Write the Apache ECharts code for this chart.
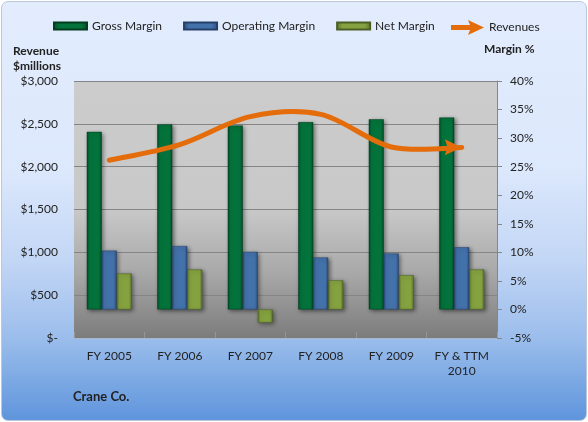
<!DOCTYPE html>
<html>
<head>
<meta charset="utf-8">
<script src="https://cdn.jsdelivr.net/npm/echarts@6/dist/echarts.min.js"></script>
<style>
  html, body { margin: 0; padding: 0; background: #ffffff; }
  #wrap { position: relative; width: 588px; height: 422px; overflow: hidden; }
  #bg { position: absolute; left: 1px; top: 1px; right: 1px; bottom: 1px;
        border: 1px solid #b9c8dc; border-radius: 7px;
        background: linear-gradient(to bottom, #e2ecfd 0%, #dce8fc 40%, #c2d6f5 62%, #9cbeec 80%, #5f95dc 100%); }
  #chart { position: absolute; left: 0; top: 0; width: 588px; height: 422px; }
</style>
</head>
<body>
<div id="wrap"><div id="bg"></div><div id="chart"></div></div>
<script>
// ---- data ----
const categories = ['FY 2005', 'FY 2006', 'FY 2007', 'FY 2008', 'FY 2009', 'FY & TTM\n2010'];
const grossMargin = [31.1, 32.4, 32.2, 32.8, 33.3, 33.6];
const operatingMargin = [10.3, 11.1, 10.1, 9.1, 9.8, 10.9];
const netMargin = [6.3, 7.0, -2.3, 5.1, 6.0, 7.0];
const revenues = [2075, 2258, 2584, 2611, 2230, 2224];
const leftTickLabels = ['$-', '$500', '$1,000', '$1,500', '$2,000', '$2,500', '$3,000'];
const rightTickLabels = ['-5%', '0%', '5%', '10%', '15%', '20%', '25%', '30%', '35%', '40%'];

const FONT = 'Lato';
const TXT = '#222222';
const ORANGE = '#e46c0a';

function bevel(dark, base) {
  return {
    type: 'linear', x: 0, y: 0, x2: 1, y2: 0,
    colorStops: [
      { offset: 0, color: dark },
      { offset: 0.18, color: base },
      { offset: 0.82, color: base },
      { offset: 1, color: dark }
    ]
  };
}

const legendArrow = 'path://M0,5 L19,5 L17,0 L33,7.5 L17,15 L19,10 L0,10 Z';

// Smooth revenue curve (Excel-like cardinal spline) drawn through the cartesian coords
function renderRevenue(params, api) {
  if (params.dataIndex !== 0) return null;
  const n = revenues.length;
  const p = revenues.map((v, i) => api.coord([i, v]));
  const P = (i) => p[Math.max(0, Math.min(n - 1, i))];
  let d = 'M' + p[0][0] + ',' + p[0][1];
  let lastCp = null;
  for (let i = 0; i < n - 1; i++) {
    const a = P(i - 1), b = P(i), c = P(i + 1), e = P(i + 2);
    const c1 = [b[0] + (c[0] - a[0]) / 6, b[1] + (c[1] - a[1]) / 6];
    const c2 = [c[0] - (e[0] - b[0]) / 6, c[1] - (e[1] - b[1]) / 6];
    d += ' C' + c1[0] + ',' + c1[1] + ' ' + c2[0] + ',' + c2[1] + ' ' + c[0] + ',' + c[1];
    lastCp = c2;
  }
  const tip = p[n - 1];
  let ux = tip[0] - lastCp[0], uy = tip[1] - lastCp[1];
  const len = Math.sqrt(ux * ux + uy * uy) || 1;
  ux /= len; uy /= len;
  const nx = -uy, ny = ux;
  const L = 17, W = 8, notch = 14;
  const head = [
    [tip[0], tip[1]],
    [tip[0] - L * ux + W * nx, tip[1] - L * uy + W * ny],
    [tip[0] - notch * ux, tip[1] - notch * uy],
    [tip[0] - L * ux - W * nx, tip[1] - L * uy - W * ny]
  ];
  const lineEnd = [tip[0] - 12 * ux, tip[1] - 12 * uy];
  return {
    type: 'group',
    children: [
      { type: 'path', shape: { pathData: d },
        style: { fill: 'none', stroke: ORANGE, lineWidth: 5, lineCap: 'round', lineJoin: 'round' } },
      { type: 'polygon', shape: { points: head }, style: { fill: ORANGE } }
    ]
  };
}

const barCommon = {
  type: 'bar', yAxisIndex: 1, barWidth: 15, barGap: '0%',
  emphasis: { disabled: true }
};

const chart = echarts.init(document.getElementById('chart'), null, { renderer: 'canvas' });
chart.setOption({
  backgroundColor: 'transparent',
  animation: false,
  textStyle: { fontFamily: FONT },
  grid: {
    left: 74, right: 91, top: 81, bottom: 84, show: true, borderWidth: 0,
    backgroundColor: {
      type: 'linear', x: 0, y: 0, x2: 0, y2: 1,
      colorStops: [
        { offset: 0, color: '#cccccc' },
        { offset: 0.5, color: '#c8c8c8' },
        { offset: 0.75, color: '#a8a8a8' },
        { offset: 1, color: '#7c7c7c' }
      ]
    }
  },
  legend: [
    {
      data: ['Gross Margin', 'Operating Margin', 'Net Margin'],
      left: 53, top: 20, padding: 0, itemWidth: 33, itemHeight: 7, itemGap: 21,
      icon: 'rect',
      textStyle: { fontFamily: FONT, fontSize: 12, color: TXT },
      selectedMode: false
    },
    {
      data: [{ name: 'Revenues', icon: legendArrow, itemStyle: { color: ORANGE, borderWidth: 0 } }],
      left: 451, top: 20, padding: 0, itemWidth: 33, itemHeight: 15,
      textStyle: { fontFamily: FONT, fontSize: 12, color: TXT },
      selectedMode: false
    }
  ],
  xAxis: {
    type: 'category', data: categories,
    axisLine: { show: true, lineStyle: { color: '#a9b7cb', width: 1 } },
    axisTick: { show: true, inside: true, length: 6, lineStyle: { color: 'rgba(255,255,255,0.18)' } },
    axisLabel: { interval: 0, margin: 11, fontFamily: FONT, fontSize: 12, color: TXT, lineHeight: 15 },
    splitLine: { show: false }
  },
  yAxis: [
    {
      type: 'value', min: 0, max: 3000, interval: 500, position: 'left',
      axisLine: { show: false }, axisTick: { show: false },
      axisLabel: { margin: 16, fontFamily: FONT, fontSize: 12, color: TXT,
        formatter: (v) => leftTickLabels[Math.round(v / 500)] },
      splitLine: { show: true, lineStyle: { color: '#858585', width: 1 } }
    },
    {
      type: 'value', min: -5, max: 40, interval: 5, position: 'right',
      axisLine: { show: true, lineStyle: { color: '#868686', width: 1 } },
      axisTick: { show: true, inside: false, length: 5, lineStyle: { color: '#868686' } },
      axisLabel: { margin: 13, fontFamily: FONT, fontSize: 12, color: TXT,
        formatter: (v) => rightTickLabels[Math.round((v + 5) / 5)] },
      splitLine: { show: false }
    }
  ],
  series: [
    Object.assign({}, barCommon, {
      name: 'Gross Margin', data: grossMargin,
      itemStyle: { color: bevel('#024b27', '#04733b'), borderColor: '#023d20', borderWidth: 0.5,
        shadowBlur: 4, shadowColor: 'rgba(0,0,0,0.45)', shadowOffsetX: 1.5, shadowOffsetY: 1.5 }
    }),
    Object.assign({}, barCommon, {
      name: 'Operating Margin', data: operatingMargin,
      itemStyle: { color: bevel('#2b4d7c', '#4371a9'), borderColor: '#24406a', borderWidth: 0.5,
        shadowBlur: 4, shadowColor: 'rgba(0,0,0,0.45)', shadowOffsetX: 1.5, shadowOffsetY: 1.5 }
    }),
    Object.assign({}, barCommon, {
      name: 'Net Margin', data: netMargin,
      itemStyle: { color: bevel('#5a722d', '#85a240'), borderColor: '#4b5f25', borderWidth: 0.5,
        shadowBlur: 4, shadowColor: 'rgba(0,0,0,0.45)', shadowOffsetX: 1.5, shadowOffsetY: 1.5 }
    }),
    {
      name: 'Revenues', type: 'custom', coordinateSystem: 'cartesian2d',
      xAxisIndex: 0, yAxisIndex: 0, z: 5,
      data: revenues.map((v, i) => [i, v]),
      encode: { x: 0, y: 1 },
      renderItem: renderRevenue,
      itemStyle: { color: ORANGE },
      emphasis: { disabled: true }
    }
  ],
  graphic: [
    { type: 'text', left: 13, top: 44,
      style: { text: 'Revenue\n$millions', fontFamily: FONT, fontSize: 12, fontWeight: 'bold', fill: TXT, lineHeight: 15 } },
    { type: 'text', left: 484, top: 43,
      style: { text: 'Margin %', fontFamily: FONT, fontSize: 12, fontWeight: 'bold', fill: TXT } },
    { type: 'text', left: 73, top: 390,
      style: { text: 'Crane Co.', fontFamily: FONT, fontSize: 13, fontWeight: 'bold', fill: TXT } }
  ]
});
</script>
</body>
</html>
